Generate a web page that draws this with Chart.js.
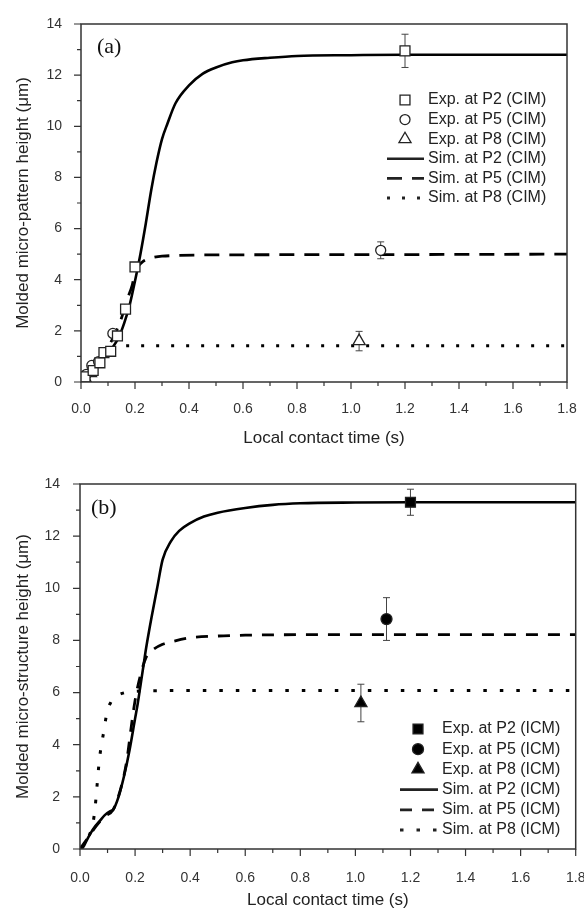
<!DOCTYPE html>
<html>
<head>
<meta charset="utf-8">
<script src="https://cdn.jsdelivr.net/npm/chart.js@4.4.1/dist/chart.umd.min.js"></script>
<style>
  html, body { margin: 0; padding: 0; background: #fff; }
  .panel { position: absolute; left: 0; width: 584px; }
  #wrapA { top: 0; height: 455px; }
  #wrapB { top: 455px; height: 456px; }
</style>
</head>
<body>
<div class="panel" id="wrapA"><canvas id="chartA"></canvas></div>
<div class="panel" id="wrapB"><canvas id="chartB"></canvas></div>
<script>
// ---- panel (a): CIM ----
const simP2TimeA = [0, 0.02, 0.04, 0.06, 0.08, 0.1, 0.12, 0.14, 0.16, 0.18, 0.2, 0.22, 0.24, 0.26, 0.28, 0.3, 0.32, 0.35, 0.4, 0.45, 0.5, 0.56, 0.6, 0.7, 0.8, 1.0, 1.2, 1.8];
const simP2HeightA = [0, 0.25, 0.5, 0.75, 0.95, 1.15, 1.4, 1.75, 2.3, 3.0, 3.95, 5.0, 6.2, 7.5, 8.6, 9.5, 10.1, 10.9, 11.6, 12.05, 12.3, 12.5, 12.58, 12.68, 12.75, 12.78, 12.8, 12.8];
const simP5TimeA = [0, 0.03, 0.06, 0.09, 0.12, 0.15, 0.17, 0.19, 0.2, 0.21, 0.23, 0.26, 0.3, 0.5, 1.0, 1.8];
const simP5HeightA = [0, 0.4, 0.8, 1.2, 1.75, 2.5, 3.2, 3.8, 4.3, 4.5, 4.72, 4.85, 4.92, 4.97, 4.98, 5.0];
const simP8TimeA = [0, 0.03, 0.06, 0.09, 0.12, 0.15, 0.17, 0.2, 0.5, 1.0, 1.8];
const simP8HeightA = [0, 0.4, 0.8, 1.1, 1.3, 1.4, 1.42, 1.42, 1.42, 1.42, 1.42];

const expP2TimeA = [0.015, 0.045, 0.07, 0.085, 0.11, 0.135, 0.165, 0.2, 1.2];
const expP2HeightA = [0.2, 0.45, 0.75, 1.15, 1.2, 1.8, 2.85, 4.5, 12.95];
const expP2ErrA = [0, 0, 0, 0, 0, 0, 0, 0, 0.65];
const expP5TimeA = [0.02, 0.04, 0.065, 0.118, 1.11];
const expP5HeightA = [0.3, 0.65, 0.8, 1.9, 5.15];
const expP5ErrA = [0, 0, 0, 0, 0.33];
const expP8TimeA = [0.015, 0.035, 1.03];
const expP8HeightA = [0.15, 0.35, 1.6];
const expP8ErrA = [0, 0, 0.38];

// ---- panel (b): ICM ----
const simP2TimeB = [0, 0.01, 0.03, 0.05, 0.07, 0.09, 0.11, 0.12, 0.14, 0.16, 0.18, 0.2, 0.21, 0.22, 0.23, 0.24, 0.26, 0.28, 0.3, 0.33, 0.36, 0.4, 0.45, 0.5, 0.6, 0.7, 0.8, 1.0, 1.2, 1.8];
const simP2HeightB = [0, 0.05, 0.45, 0.8, 1.05, 1.3, 1.45, 1.5, 2.0, 2.8, 3.8, 5.0, 5.6, 6.3, 7.0, 7.7, 8.9, 10.0, 11.1, 11.8, 12.2, 12.5, 12.75, 12.9, 13.08, 13.2, 13.26, 13.29, 13.3, 13.3];
const simP5TimeB = [0, 0.03, 0.06, 0.09, 0.12, 0.15, 0.17, 0.185, 0.2, 0.218, 0.24, 0.26, 0.3, 0.34, 0.4, 0.5, 0.6, 0.8, 1.0, 1.8];
const simP5HeightB = [0, 0.45, 0.9, 1.25, 1.5, 2.4, 3.4, 4.6, 5.7, 6.6, 7.35, 7.6, 7.85, 7.97, 8.1, 8.17, 8.2, 8.22, 8.22, 8.22];
const simP8TimeB = [0, 0.02, 0.04, 0.048, 0.055, 0.06, 0.065, 0.07, 0.078, 0.088, 0.097, 0.113, 0.13, 0.164, 0.2, 0.28, 0.5, 1.0, 1.8];
const simP8HeightB = [0, 0.3, 0.7, 1.04, 1.6, 2.2, 2.8, 3.4, 4.0, 4.6, 5.2, 5.65, 5.85, 6.0, 6.05, 6.07, 6.08, 6.08, 6.08];

const expP2TimeB = [1.2];
const expP2HeightB = [13.3];
const expP2ErrB = [0.5];
const expP5TimeB = [1.113];
const expP5HeightB = [8.82];
const expP5ErrB = [0.82];
const expP8TimeB = [1.02];
const expP8HeightB = [5.6];
const expP8ErrB = [0.72];

const xTickMin = 0, xTickMax = 1.8;
const yTickMin = 0, yTickMax = 14;

Chart.defaults.font.family = "'Liberation Sans', Arial, sans-serif";
Chart.defaults.color = '#333';

function pts(xs, ys) {
    return xs.map((x, i) => ({ x: x, y: ys[i] }));
}

function expSet(label, xs, ys, errs, style, radius, filled) {
    return {
        label: label,
        data: pts(xs, ys),
        errorBars: errs,
        showLine: false,
        pointStyle: style,
        pointRadius: radius,
        pointBorderWidth: 1.3,
        pointBorderColor: '#222',
        pointBackgroundColor: filled ? '#000' : '#fff'
    };
}

function simSet(label, xs, ys, dash, width) {
    return {
        label: label,
        data: pts(xs, ys),
        showLine: true,
        pointRadius: 0,
        borderColor: '#000',
        borderWidth: width,
        borderDash: dash,
        cubicInterpolationMode: 'monotone',
        legendDash: dash
    };
}

// frame, minor/major ticks, error bars, panel tag and legend
const decorPlugin = {
    id: 'decor',
    beforeDatasetsDraw(chart) {
        const ctx = chart.ctx;
        const ys = chart.scales.y;
        ctx.save();
        ctx.strokeStyle = '#444';
        ctx.lineWidth = 1;
        chart.data.datasets.forEach((ds, i) => {
            if (!ds.errorBars) return;
            const meta = chart.getDatasetMeta(i);
            meta.data.forEach((el, j) => {
                const e = ds.errorBars[j];
                if (!e) return;
                const v = ds.data[j].y;
                const t = ys.getPixelForValue(v + e);
                const b = ys.getPixelForValue(v - e);
                ctx.beginPath();
                ctx.moveTo(el.x, t); ctx.lineTo(el.x, b);
                ctx.moveTo(el.x - 3.5, t); ctx.lineTo(el.x + 3.5, t);
                ctx.moveTo(el.x - 3.5, b); ctx.lineTo(el.x + 3.5, b);
                ctx.stroke();
            });
        });
        ctx.restore();
    },
    afterDraw(chart, args, opts) {
        const ctx = chart.ctx;
        const a = chart.chartArea;
        const xs = chart.scales.x, ys = chart.scales.y;
        ctx.save();
        ctx.strokeStyle = '#333';
        ctx.lineWidth = 1.5;
        ctx.strokeRect(a.left, a.top, a.right - a.left, a.bottom - a.top);
        ctx.lineWidth = 1.2;
        ctx.beginPath();
        xs.ticks.forEach((t, i) => {
            const px = xs.getPixelForValue(t.value);
            const len = i % 2 === 0 ? 7 : 4;
            ctx.moveTo(px, a.bottom); ctx.lineTo(px, a.bottom + len);
        });
        ys.ticks.forEach((t, i) => {
            const py = ys.getPixelForValue(t.value);
            const len = i % 2 === 0 ? 7 : 4;
            ctx.moveTo(a.left - len, py); ctx.lineTo(a.left, py);
        });
        ctx.stroke();

        // panel tag
        ctx.fillStyle = '#111';
        ctx.font = "22px 'Liberation Serif', 'Times New Roman', serif";
        ctx.textBaseline = 'middle';
        ctx.textAlign = 'left';
        ctx.fillText(opts.tag, a.left + opts.tagDx, a.top + opts.tagDy);

        // legend
        const lg = opts.legend;
        ctx.font = "16px 'Liberation Sans', Arial, sans-serif";
        chart.data.datasets.forEach((ds, i) => {
            const y = lg.y + i * lg.rowH;
            ctx.strokeStyle = '#222';
            ctx.fillStyle = ds.pointBackgroundColor || '#000';
            if (ds.showLine) {
                ctx.lineWidth = ds.borderWidth;
                ctx.setLineDash(ds.legendDash || []);
                ctx.beginPath();
                ctx.moveTo(lg.lineX0, y); ctx.lineTo(lg.lineX1, y);
                ctx.stroke();
                ctx.setLineDash([]);
            } else {
                ctx.lineWidth = ds.pointBorderWidth;
                Chart.helpers.drawPoint(ctx, {
                    pointStyle: ds.pointStyle,
                    radius: ds.pointRadius,
                    rotation: 0,
                    borderWidth: ds.pointBorderWidth
                }, lg.markerX, y);
            }
            ctx.fillStyle = '#222';
            ctx.fillText(ds.label, lg.textX, y);
        });
        ctx.restore();
    }
};

function makeChart(id, datasets, cfg) {
    return new Chart(document.getElementById(id), {
        type: 'scatter',
        data: { datasets: datasets },
        plugins: [decorPlugin],
        options: {
            responsive: true,
            maintainAspectRatio: false,
            animation: false,
            layout: { padding: { top: cfg.padTop, right: cfg.padRight, left: 0, bottom: 0 } },
            elements: { line: { borderJoinStyle: 'round' } },
            plugins: {
                legend: { display: false },
                tooltip: { enabled: false },
                decor: { tag: cfg.tag, tagDx: cfg.tagDx, tagDy: cfg.tagDy, legend: cfg.legend }
            },
            scales: {
                x: {
                    type: 'linear',
                    min: xTickMin,
                    max: xTickMax,
                    grid: { display: false },
                    border: { display: false },
                    ticks: {
                        stepSize: 0.1,
                        autoSkip: false,
                        maxRotation: 0,
                        padding: cfg.xTickPad,
                        color: '#333',
                        font: { size: 14 },
                        callback: v => Math.round(v * 10) % 2 === 0 ? v.toFixed(1) : ''
                    },
                    title: {
                        display: true,
                        text: 'Local contact time (s)',
                        color: '#222',
                        font: { size: 17 },
                        padding: { top: 0, bottom: cfg.xTitlePad }
                    },
                    afterFit: s => {
                        s.height = cfg.xHeight;
                        s.paddingLeft = 0;
                        s.paddingRight = 0;
                    }
                },
                y: {
                    type: 'linear',
                    min: yTickMin,
                    max: yTickMax,
                    grid: { display: false },
                    border: { display: false },
                    ticks: {
                        stepSize: 1,
                        autoSkip: false,
                        padding: cfg.yTickPad,
                        color: '#333',
                        font: { size: 14 },
                        callback: v => v % 2 === 0 ? String(v) : ''
                    },
                    title: {
                        display: true,
                        text: cfg.yTitle,
                        color: '#222',
                        font: { size: 17 },
                        padding: { top: cfg.yTitlePad, bottom: 0 }
                    },
                    afterFit: s => {
                        s.width = cfg.yWidth;
                        s.paddingTop = 0;
                        s.paddingBottom = 0;
                    }
                }
            }
        }
    });
}

makeChart('chartA', [
    expSet('Exp. at P2 (CIM)', expP2TimeA, expP2HeightA, expP2ErrA, 'rect', 7, false),
    expSet('Exp. at P5 (CIM)', expP5TimeA, expP5HeightA, expP5ErrA, 'circle', 5, false),
    expSet('Exp. at P8 (CIM)', expP8TimeA, expP8HeightA, expP8ErrA, 'triangle', 7, false),
    simSet('Sim. at P2 (CIM)', simP2TimeA, simP2HeightA, [], 2.6),
    simSet('Sim. at P5 (CIM)', simP5TimeA, simP5HeightA, [15, 10], 2.8),
    simSet('Sim. at P8 (CIM)', simP8TimeA, simP8HeightA, [3, 12], 3)
], {
    padTop: 24, padRight: 17, yWidth: 81, xHeight: 73,
    xTickPad: 11, yTickPad: 11, xTitlePad: 6, yTitlePad: 13,
    yTitle: 'Molded micro-pattern height (\u03bcm)',
    tag: '(a)', tagDx: 16, tagDy: 23,
    legend: { textX: 428, y: 100, rowH: 19.6, markerX: 405, lineX0: 387, lineX1: 424 }
});

makeChart('chartB', [
    expSet('Exp. at P2 (ICM)', expP2TimeB, expP2HeightB, expP2ErrB, 'rect', 7, true),
    expSet('Exp. at P5 (ICM)', expP5TimeB, expP5HeightB, expP5ErrB, 'circle', 5.5, true),
    expSet('Exp. at P8 (ICM)', expP8TimeB, expP8HeightB, expP8ErrB, 'triangle', 7, true),
    simSet('Sim. at P2 (ICM)', simP2TimeB, simP2HeightB, [], 2.6),
    simSet('Sim. at P5 (ICM)', simP5TimeB, simP5HeightB, [12, 10], 2.8),
    simSet('Sim. at P8 (ICM)', simP8TimeB, simP8HeightB, [3.5, 13], 3)
], {
    padTop: 29, padRight: 8, yWidth: 80, xHeight: 62,
    xTickPad: 13, yTickPad: 12, xTitlePad: 0, yTitlePad: 13,
    yTitle: 'Molded micro-structure height (\u03bcm)',
    tag: '(b)', tagDx: 11, tagDy: 24,
    legend: { textX: 442, y: 274, rowH: 20.2, markerX: 418, lineX0: 400, lineX1: 438 }
});
</script>
</body>
</html>
